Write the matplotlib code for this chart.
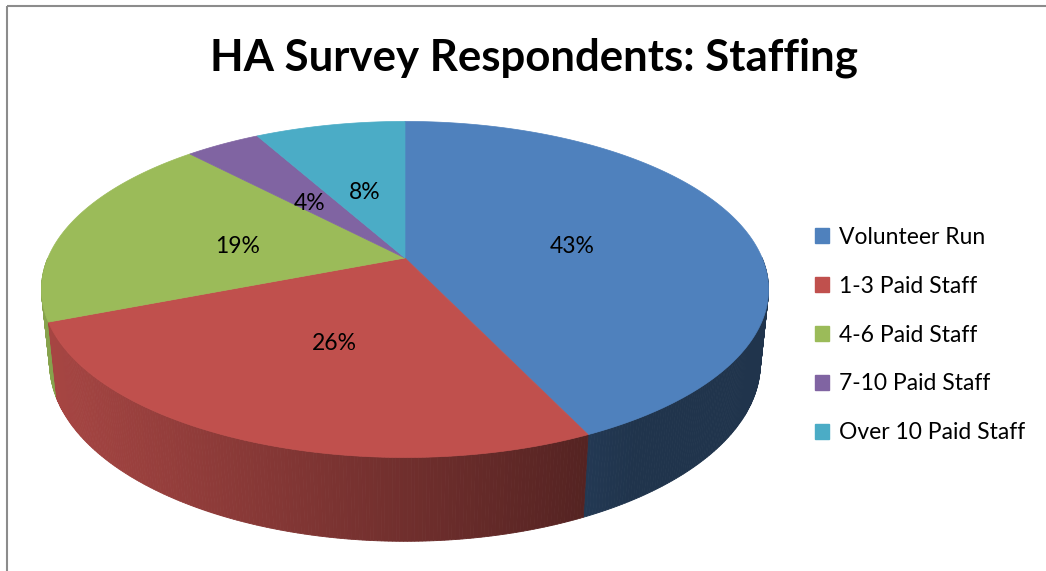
import numpy as np
import matplotlib
matplotlib.use("Agg")
import matplotlib.pyplot as plt
from matplotlib.patches import Polygon, Patch, Rectangle
from matplotlib.colors import to_rgb

title = "HA Survey Respondents: Staffing"
categories = ["Volunteer Run", "1-3 Paid Staff", "4-6 Paid Staff", "7-10 Paid Staff", "Over 10 Paid Staff"]
percents = [43, 26, 19, 4, 8]
colors = ["#4F81BD", "#C0504D", "#9BBB59", "#8064A2", "#4BACC6"]

W, H = 1046, 571

# camera for the tilted 3d pie, fitted by eye to the picture (pixel units)
CX, CY = 405, 258
TILT = np.radians(27)
DIST = 4.76
FOCAL = 1700
DEPTH = 0.234
LABEL_R = 0.49


def project(u, v, h=0.0):
    s, c = np.sin(TILT), np.cos(TILT)
    z = DIST + v * c - h * s
    return CX + FOCAL * u / z, CY - FOCAL * (v * s + h * c) / z, z


def shade(color, x):
    # side walls get darker from left to right
    k = np.clip(0.87 - 0.00079 * (x - 45), 0.40, 1.0)
    return tuple(np.array(to_rgb(color)) * k)


fig = plt.figure(figsize=(W / 100, H / 100), dpi=100)
ax = fig.add_axes([0, 0, 1, 1])
ax.set_xlim(0, W)
ax.set_ylim(H, 0)
ax.axis("off")

# light grey chart border (right and bottom edges fall outside the picture)
ax.add_patch(Rectangle((7, 6), W, H, fill=False, ec="#8c8c8c", lw=1.5))

fracs = np.array(percents) / sum(percents)
edges = 90 - 360 * np.concatenate([[0], np.cumsum(fracs)])

# side walls, drawn far to near
strips = []
for i in range(len(percents)):
    a0, a1 = edges[i + 1], edges[i]
    ts = np.radians(np.linspace(a0, a1, int((a1 - a0) * 2) + 2))
    for t0, t1 in zip(ts[:-1], ts[1:]):
        if np.sin((t0 + t1) / 2) > 0:
            continue
        p0 = project(np.cos(t0), np.sin(t0))
        p1 = project(np.cos(t1), np.sin(t1))
        q1 = project(np.cos(t1), np.sin(t1), -DEPTH)
        q0 = project(np.cos(t0), np.sin(t0), -DEPTH)
        col = shade(colors[i], (p0[0] + p1[0]) / 2)
        strips.append(((p0[2] + p1[2]) / 2, [p0[:2], p1[:2], q1[:2], q0[:2]], col))
strips.sort(key=lambda s: -s[0])
for _, pts, col in strips:
    ax.add_patch(Polygon(pts, closed=True, fc=col, ec=col, lw=0.6))

# top face
for i in range(len(percents)):
    a0, a1 = edges[i + 1], edges[i]
    ts = np.radians(np.linspace(a0, a1, int((a1 - a0) * 2) + 2))
    pts = [project(0, 0)[:2]] + [project(np.cos(t), np.sin(t))[:2] for t in ts]
    ax.add_patch(Polygon(pts, closed=True, fc=colors[i], ec=colors[i], lw=0.5))

# percent labels
for i, p in enumerate(percents):
    mid = np.radians((edges[i] + edges[i + 1]) / 2)
    x, y, _ = project(LABEL_R * np.cos(mid), LABEL_R * np.sin(mid))
    ax.text(x, y + 5, f"{p}%", ha="center", va="center", fontsize=16.5, family="Lato", color="black")

ax.text(534, 71, title, ha="center", va="baseline", fontsize=31.5, fontweight="bold", family="Lato")

handles = [Patch(fc=c, ec=c) for c in colors]
ax.legend(handles, categories, loc="center left", bbox_to_anchor=(815 / W, 1 - 335 / H),
          frameon=False, prop={"family": "Lato", "size": 16.5}, borderpad=0, borderaxespad=0,
          handlelength=0.61, handleheight=0.61, handletextpad=0.44, labelspacing=1.22)

fig.savefig("out.png", dpi=100)
